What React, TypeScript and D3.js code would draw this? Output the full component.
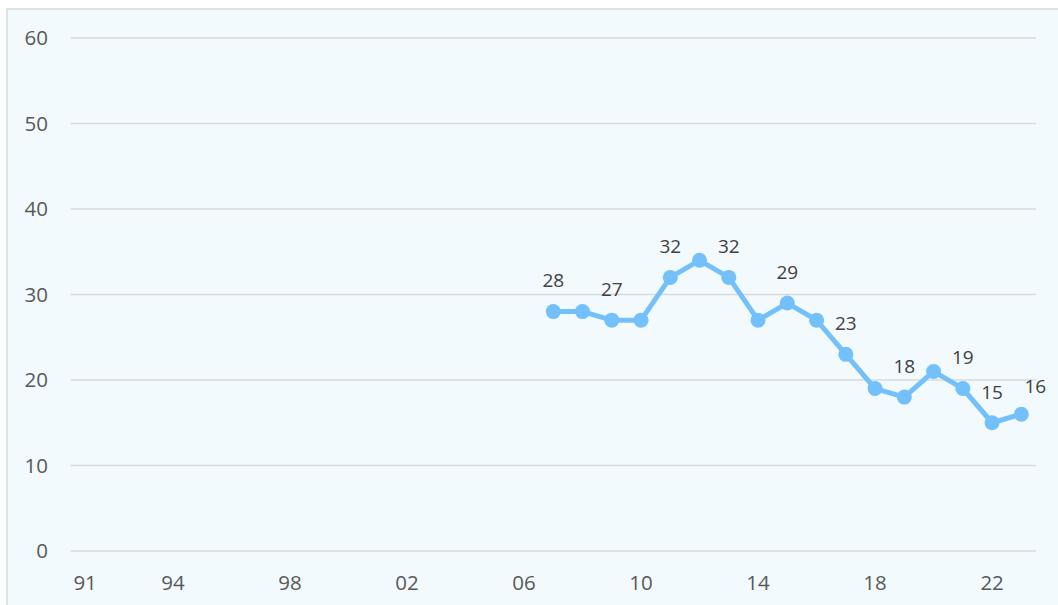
import { useEffect, useRef } from 'react'
import * as d3 from 'd3'

// years 1991..2023, one slot each
const years = d3.range(1991, 2024)
const tickYears = [1991, 1994, 1998, 2002, 2006, 2010, 2014, 2018, 2022]
const yTicks = [0, 10, 20, 30, 40, 50, 60]

const seriesYears = [2007, 2008, 2009, 2010, 2011, 2012, 2013, 2014, 2015, 2016, 2017, 2018, 2019, 2020, 2021, 2022, 2023]
const seriesValues = [28, 28, 27, 27, 32, 34, 32, 27, 29, 27, 23, 19, 18, 21, 19, 15, 16]
const labelledYears = [2007, 2009, 2011, 2013, 2015, 2017, 2019, 2021, 2022, 2023]

const W = 1058
const H = 605
const margin = { top: 38, right: 22, bottom: 54, left: 70.5 }

const App = () => {
  const svgRef = useRef<SVGSVGElement>(null)

  useEffect(() => {
    if (!svgRef.current) return
    const svg = d3.select(svgRef.current)
    svg.selectAll('*').remove()

    svg.append('rect')
      .attr('x', 7).attr('y', 9)
      .attr('width', W).attr('height', H)
      .attr('fill', '#F2FAFE')
      .attr('stroke', '#D9D9D9')
      .attr('stroke-width', 1.5)

    const x = d3.scaleBand<number>()
      .domain(years)
      .range([margin.left, W - margin.right])
    const y = d3.scaleLinear()
      .domain([0, 60])
      .range([H - margin.bottom, margin.top])

    const cx = (yr: number) => (x(yr) ?? 0) + x.bandwidth() / 2

    // gridlines
    svg.append('g')
      .selectAll('line')
      .data(yTicks)
      .enter().append('line')
      .attr('x1', margin.left)
      .attr('x2', W - margin.right)
      .attr('y1', d => y(d))
      .attr('y2', d => y(d))
      .attr('stroke', '#D9D9D9')
      .attr('stroke-width', 1.5)

    // y labels
    svg.append('g')
      .selectAll('text')
      .data(yTicks)
      .enter().append('text')
      .attr('x', 48)
      .attr('y', d => y(d))
      .attr('dy', '0.36em')
      .attr('text-anchor', 'end')
      .style('font-family', '"Open Sans", sans-serif')
      .style('font-size', '20.5px')
      .style('fill', '#595959')
      .text(d => d)

    // x labels
    svg.append('g')
      .selectAll('text')
      .data(tickYears)
      .enter().append('text')
      .attr('x', d => cx(d))
      .attr('y', H - margin.bottom + 32)
      .attr('dy', '0.36em')
      .attr('text-anchor', 'middle')
      .style('font-family', '"Open Sans", sans-serif')
      .style('font-size', '20.5px')
      .style('fill', '#595959')
      .text(d => String(d % 100).padStart(2, '0'))

    const pts = seriesYears.map((yr, i) => ({ yr, v: seriesValues[i] }))

    const line = d3.line<{ yr: number; v: number }>()
      .x(d => cx(d.yr))
      .y(d => y(d.v))

    svg.append('path')
      .datum(pts)
      .attr('d', line)
      .attr('fill', 'none')
      .attr('stroke', '#74C0FB')
      .attr('stroke-width', 5)
      .attr('stroke-linejoin', 'round')

    svg.append('g')
      .selectAll('circle')
      .data(pts)
      .enter().append('circle')
      .attr('cx', d => cx(d.yr))
      .attr('cy', d => y(d.v))
      .attr('r', 7.5)
      .attr('fill', '#74C0FB')

    svg.append('g')
      .selectAll('text')
      .data(pts.filter(d => labelledYears.includes(d.yr)))
      .enter().append('text')
      .attr('x', d => cx(d.yr) + (d.yr === 2023 ? 14 : 0))
      .attr('y', d => y(d.v) - (d.yr === 2023 ? 28 : 31))
      .attr('dy', '0.36em')
      .attr('text-anchor', 'middle')
      .style('font-family', '"Open Sans", sans-serif')
      .style('font-size', '19px')
      .style('fill', '#404040')
      .text(d => d.v)
  }, [])

  return (
    <svg
      ref={svgRef}
      width={W}
      height={H}
      style={{ position: 'absolute', left: 0, top: 0 }}
    ></svg>
  )
}

export default App
